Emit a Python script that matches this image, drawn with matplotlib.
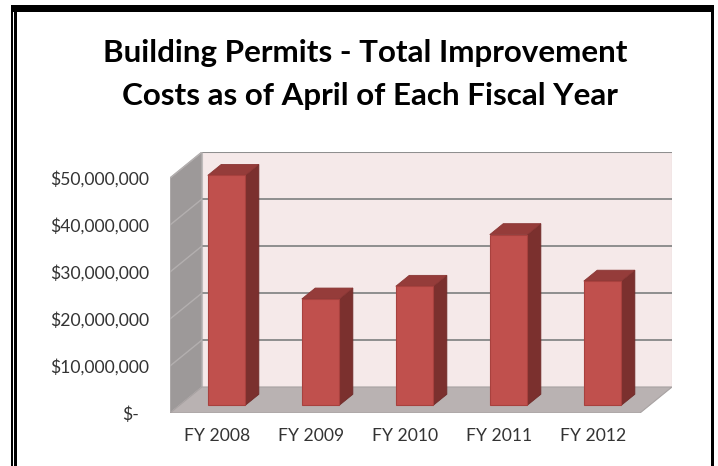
import matplotlib
matplotlib.use('Agg')
import matplotlib.pyplot as plt
from matplotlib.patches import Polygon, Rectangle
from matplotlib.transforms import ScaledTranslation

# ---------------- data ----------------
categories = ['FY 2008', 'FY 2009', 'FY 2010', 'FY 2011', 'FY 2012']
values = [48.9e6, 22.6e6, 25.3e6, 36.3e6, 26.4e6]
y_ticks = [0, 10e6, 20e6, 30e6, 40e6, 50e6]
y_tick_labels = ['$-', '$10,000,000', '$20,000,000', '$30,000,000',
                 '$40,000,000', '$50,000,000']
title_lines = ['Building Permits - Total Improvement',
               'Costs as of April of Each Fiscal Year']

# ---------------- style ----------------
W, H = 718, 466
FONT = ['Lato', 'DejaVu Sans']
BACK_WALL = '#F5E9E9'
LEFT_WALL = '#9D9999'
FLOOR = '#B9B2B2'
GRID = '#8E8E8E'
BAR_FRONT = '#C0504D'
BAR_TOP = '#953C3A'
BAR_SIDE = '#7B302E'
BAR_EDGE = '#A8413E'
TEXT = '#333333'

fig = plt.figure(figsize=(W / 100, H / 100), dpi=100)
fig.patch.set_facecolor('white')

# plot area in pixels (front plane 0..ymax, plus depth)
front_l, front_r, front_b, front_t = 170, 640, 413, 178
depth_px_x, depth_px_y = 32, 26
ax_l, ax_r = front_l, front_r + depth_px_x
ax_b, ax_t = front_b, front_t - depth_px_y
ax = fig.add_axes([ax_l / W, 1 - ax_b / H, (ax_r - ax_l) / W, (ax_b - ax_t) / H])

n = len(categories)
ymax = y_ticks[-1]
DX = n * depth_px_x / (front_r - front_l)
DY = ymax * depth_px_y / (front_b - front_t)
ax.set_xlim(0, n + DX)
ax.set_ylim(0, ymax + DY)
ax.patch.set_visible(False)
for s in ax.spines.values():
    s.set_visible(False)

# walls
ax.add_patch(Polygon([(DX, DY), (n + DX, DY), (n + DX, ymax + DY), (DX, ymax + DY)],
                     closed=True, facecolor=BACK_WALL, edgecolor='#C8C4C4', lw=0.8, zorder=1))
ax.add_patch(Polygon([(0, 0), (0, ymax), (DX, ymax + DY), (DX, DY)],
                     closed=True, facecolor=LEFT_WALL, edgecolor='#B8B4B4', lw=0.8, zorder=1))
ax.add_patch(Polygon([(0, 0), (n, 0), (n + DX, DY), (DX, DY)],
                     closed=True, facecolor=FLOOR, edgecolor='#A8A2A2', lw=0.8, zorder=1))

# gridlines
for v in y_ticks[1:]:
    ax.plot([DX, n + DX], [v + DY, v + DY], color=GRID, lw=1.4, zorder=2,
            solid_capstyle='butt')
    ax.plot([0, DX], [v, v + DY], color='#B3AFAF', lw=1.0, zorder=2)

# bars
BW = 0.40
Z0, Z1 = 0.30, 0.72
ddx = (Z1 - Z0) * DX
for i, v in enumerate(values):
    xa = i + 0.5 - BW / 2 + Z0 * DX
    xb = xa + BW
    y0 = Z0 * DY
    y1 = Z1 * DY
    side = [(xb, y0), (xb + ddx, y1), (xb + ddx, v + y1), (xb, v + y0)]
    top = [(xa, v + y0), (xb, v + y0), (xb + ddx, v + y1), (xa + ddx, v + y1)]
    front = [(xa, y0), (xb, y0), (xb, v + y0), (xa, v + y0)]
    ax.add_patch(Polygon(side, closed=True, facecolor=BAR_SIDE, edgecolor='#6E2A28', lw=0.6, zorder=3))
    ax.add_patch(Polygon(top, closed=True, facecolor=BAR_TOP, edgecolor='#8A3634', lw=0.6, zorder=3))
    ax.add_patch(Polygon(front, closed=True, facecolor=BAR_FRONT, edgecolor=BAR_EDGE, lw=0.8, zorder=4))

# ticks
renderer = fig.canvas.get_renderer()


def fit_size(text, target_px, weight='normal'):
    t = fig.text(0, 0, text, fontsize=10, family=FONT, weight=weight)
    w = t.get_window_extent(renderer).width
    t.remove()
    return 10 * target_px / w


ysize = fit_size('$50,000,000', 99)
xsize = ysize

ax.set_yticks(y_ticks)
ax.set_yticklabels(y_tick_labels, family=FONT, fontsize=ysize, color=TEXT)
ax.set_xticks([i + 0.5 for i in range(n)])
ax.set_xticklabels(categories, family=FONT, fontsize=xsize, color=TEXT)
ax.tick_params(axis='y', length=0, pad=(front_l - 149) * 0.72)
ax.tick_params(axis='x', length=0, pad=15 * 0.72)
# "$-" sits a little left of the other labels
zero_lab = ax.get_yticklabels()[0]
zero_lab.set_transform(zero_lab.get_transform() +
                       ScaledTranslation(-10 / 100, 0, fig.dpi_scale_trans))

# title
tsize = fit_size(title_lines[0], 527, weight='bold')
fig.text(365 / W, 1 - 62 / H, title_lines[0], ha='center', va='baseline',
         family=FONT, weight='bold', fontsize=tsize, color='black')
fig.text(370 / W, 1 - 105 / H, title_lines[1], ha='center', va='baseline',
         family=FONT, weight='bold', fontsize=tsize, color='black')

# frame (border of the original chart)
ov = fig.add_axes([0, 0, 1, 1], zorder=10)
ov.set_xlim(0, W)
ov.set_ylim(H, 0)
ov.axis('off')
ov.patch.set_visible(False)
ov.add_patch(Rectangle((11, 5), 703, 7, facecolor='black', edgecolor='none'))
ov.add_patch(Rectangle((11, 5), 1.8, H, facecolor='black', edgecolor='none'))
ov.add_patch(Rectangle((14, 12), 3.3, H, facecolor='black', edgecolor='none'))
ov.add_patch(Rectangle((710.5, 5), 3.5, H, facecolor='black', edgecolor='none'))

fig.savefig('out.png', dpi=100)
